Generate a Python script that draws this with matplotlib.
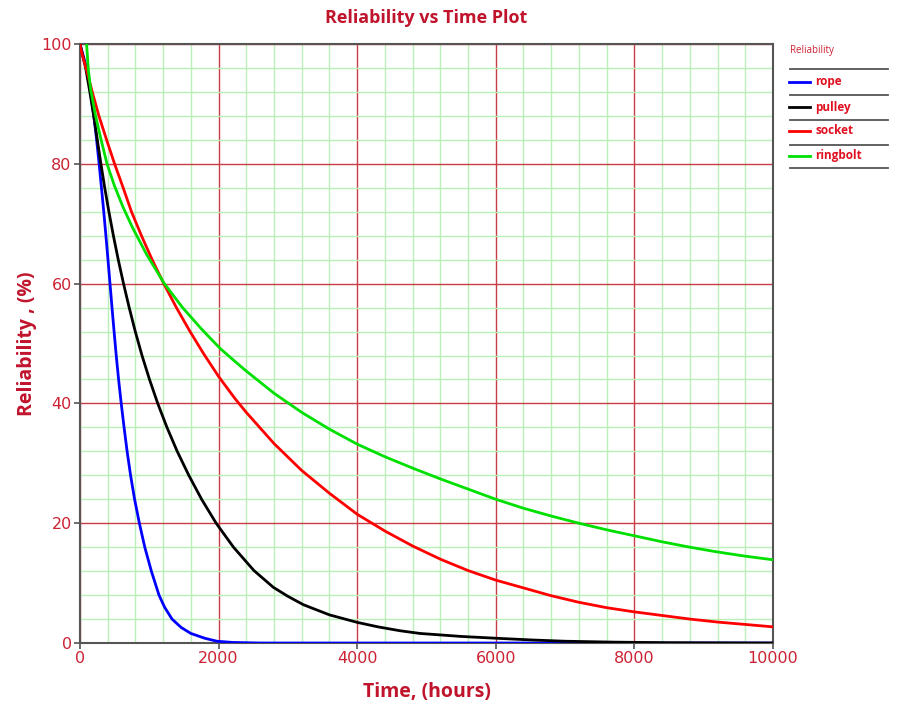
import numpy as np
import matplotlib
matplotlib.use("Agg")
import matplotlib.pyplot as plt
from matplotlib.lines import Line2D
from matplotlib.ticker import MultipleLocator

# values (time in hours, reliability in %)
rope_t = [0, 96, 153, 200, 240, 276, 310, 343, 374, 404, 433, 462, 492, 523, 557,
          595, 636, 680, 730, 788, 857, 935, 1030, 1140, 1220, 1328, 1460, 1600,
          1800, 1976, 2200, 2600, 10000]
rope_r = [100, 96, 92, 88, 84, 80, 76, 72, 68, 64, 60, 56, 52, 48, 44,
          40, 36, 32, 28, 24, 20, 16, 12, 8, 6, 4, 2.6, 1.6,
          0.8, 0.3, 0.1, 0.0, 0.0]

pulley_t = [0, 82, 142, 198, 250, 302, 357, 417, 482, 552, 628, 710, 798, 895,
            1003, 1122, 1255, 1403, 1570, 1755, 1965, 2215, 2510, 2790, 3000,
            3223, 3600, 4000, 4300, 4618, 4906, 5500, 6000, 6540, 7000, 7700,
            8500, 10000]
pulley_r = [100, 96, 92, 88, 84, 80, 76, 72, 68, 64, 60, 56, 52, 48,
            44, 40, 36, 32, 28, 24, 20, 16, 12.1, 9.3, 7.8,
            6.4, 4.7, 3.45, 2.7, 2.05, 1.6, 1.1, 0.8, 0.5, 0.3, 0.15,
            0.05, 0.0]

socket_t = [0, 8, 24, 96, 177, 273, 384, 499, 623, 743, 887, 1041, 1209, 1391,
            1583, 1784, 2000, 2237, 2400, 2800, 3200, 3600, 4000, 4400, 4800,
            5200, 5600, 6000, 6400, 6800, 7200, 7600, 8000, 8400, 8800, 9200,
            9600, 10000]
socket_r = [100, 99.4, 98.6, 95.6, 92, 88, 84, 80, 76, 72, 68, 64, 60, 56,
            52.1, 48.3, 44.5, 40.8, 38.5, 33.3, 28.8, 25.0, 21.5, 18.7, 16.2,
            14.0, 12.1, 10.5, 9.2, 7.9, 6.8, 5.9, 5.2, 4.6, 4.0, 3.5,
            3.1, 2.7]

ringbolt_t = [95, 120, 153, 225, 305, 390, 495, 620, 760, 965, 1217, 1480, 1755,
              2020, 2237, 2400, 2800, 3200, 3600, 4000, 4400, 4800, 5200, 5600,
              6000, 6400, 6800, 7200, 7600, 8000, 8400, 8800, 9200, 9600, 10000]
ringbolt_r = [100, 95.8, 92.5, 88, 84, 80, 76.4, 72.8, 69.3, 64.8, 60, 56.0,
              52.4, 49.2, 47.0, 45.4, 41.7, 38.5, 35.7, 33.2, 31.1, 29.2, 27.4,
              25.7, 24.0, 22.5, 21.2, 20.0, 18.9, 17.9, 16.9, 16.0, 15.2, 14.5,
              13.9]

names = ['rope', 'pulley', 'socket', 'ringbolt']
colors = ['#0000ff', '#000000', '#ff0000', '#00e000']
series = [(rope_t, rope_r), (pulley_t, pulley_r),
          (socket_t, socket_r), (ringbolt_t, ringbolt_r)]

txt_red = '#cc2233'
head_red = '#c0142c'

fig = plt.figure(figsize=(9.1, 7.11), dpi=100)
ax = fig.add_axes([0.0879, 0.0956, 0.7615, 0.8425])

for (t, r), c in zip(series, colors):
    ax.plot(t, r, color=c, linewidth=2.0, zorder=3, solid_joinstyle='round')

ax.set_xlim(0, 10000)
ax.set_ylim(0, 100)
ax.xaxis.set_major_locator(MultipleLocator(2000))
ax.xaxis.set_minor_locator(MultipleLocator(400))
ax.yaxis.set_major_locator(MultipleLocator(20))
ax.yaxis.set_minor_locator(MultipleLocator(4))

ax.grid(which='minor', color='#b8f0b8', linewidth=1.0, zorder=0)
ax.grid(which='major', color='#c83c46', linewidth=1.0, zorder=1)
ax.set_axisbelow(True)

ax.tick_params(which='major', length=4, width=1.2, color='#555555',
               labelcolor=txt_red, labelsize=11.5, pad=2)
ax.tick_params(which='minor', length=0)

for side in ['left', 'bottom', 'right', 'top']:
    ax.spines[side].set_color('#555555')
    ax.spines[side].set_linewidth(1.5)

ax.set_title('Reliability vs Time Plot', color=head_red, fontsize=13,
             fontweight='bold', family='Open Sans', pad=15)
ax.set_xlabel('Time, (hours)', color=head_red, fontsize=14,
              fontweight='bold', family='Open Sans', labelpad=11)
ax.set_ylabel('Reliability , (%)', color=head_red, fontsize=14,
              fontweight='bold', family='Open Sans', labelpad=3)

# legend drawn as a table with separator lines
W, H = 910, 711
fig.text(790 / W, 1 - 50 / H, 'Reliability', color=txt_red, fontsize=7,
         family='Open Sans', va='center', ha='left')
sep_y = [69, 95, 120, 145, 168]
for y in sep_y:
    fig.add_artist(Line2D([790 / W, 888 / W], [1 - y / H, 1 - y / H],
                          color='#555555', linewidth=1.3))
entry_y = [82, 107, 131, 156]
for name, c, y in zip(names, colors, entry_y):
    fig.add_artist(Line2D([789 / W, 810 / W], [1 - y / H, 1 - y / H],
                          color=c, linewidth=2))
    fig.text(815 / W, 1 - y / H, name, color='#e01020', fontsize=8.5,
             fontweight='bold', family='Open Sans', va='center', ha='left')

fig.savefig('out.png', dpi=100)
